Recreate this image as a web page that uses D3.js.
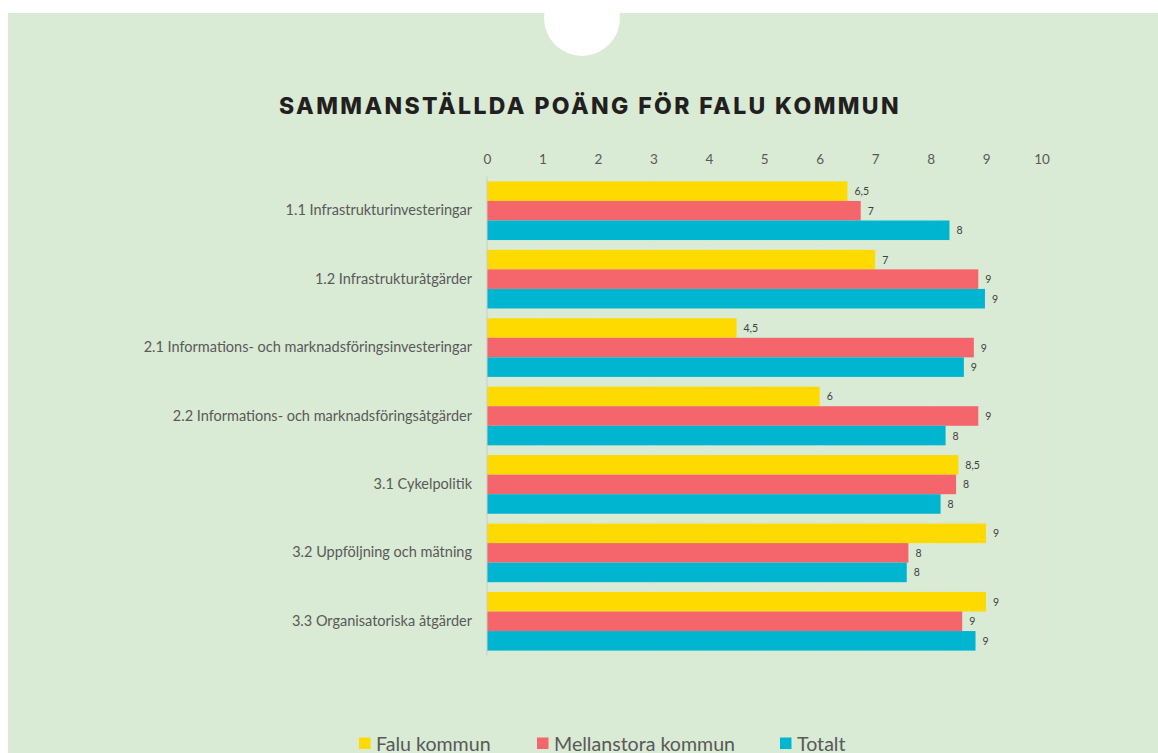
<!DOCTYPE html>
<html><head><meta charset="utf-8">
<script src="https://cdn.jsdelivr.net/npm/d3@7"></script>
<style>html,body{margin:0;padding:0;background:#fff;}svg{display:block;}</style>
</head><body>
<svg id="chart" width="1158" height="753"></svg>
<script>
const categories = ["1.1 Infrastrukturinvesteringar","1.2 Infrastrukturåtgärder","2.1 Informations- och marknadsföringsinvesteringar","2.2 Informations- och marknadsföringsåtgärder","3.1 Cykelpolitik","3.2 Uppföljning och mätning","3.3 Organisatoriska åtgärder"];
const seriesNames = ["Falu kommun","Mellanstora kommun","Totalt"];
const faluValues = [6.5, 7.0, 4.5, 6.0, 8.5, 9.0, 9.0];
const mellanValues = [6.74, 8.86, 8.78, 8.86, 8.46, 7.6, 8.57];
const totaltValues = [8.34, 8.98, 8.6, 8.27, 8.18, 7.57, 8.81];
const faluLabels = ["6,5","7","4,5","6","8,5","9","9"];
const mellanLabels = ["7","9","9","9","8","8","9"];
const totaltLabels = ["8","9","9","8","8","8","9"];
const tickValues = [0,1,2,3,4,5,6,7,8,9,10];
const colors = ["#FFDA00","#F4666B","#00B5CF"];
const title = "SAMMANSTÄLLDA POÄNG FÖR FALU KOMMUN";

const series = [
  {name: seriesNames[0], values: faluValues, labels: faluLabels, color: colors[0]},
  {name: seriesNames[1], values: mellanValues, labels: mellanLabels, color: colors[1]},
  {name: seriesNames[2], values: totaltValues, labels: totaltLabels, color: colors[2]}
];

const svg = d3.select("#chart");
const font = "Lato, 'Open Sans', sans-serif";

// background panel
svg.append("rect").attr("x",8).attr("y",13).attr("width",1150).attr("height",740).attr("fill","#D9EAD5");
svg.append("circle").attr("cx",582).attr("cy",18).attr("r",38).attr("fill","#fff");

// title
svg.append("text").attr("x",590).attr("y",114).attr("text-anchor","middle")
  .attr("font-family","Inter, sans-serif").attr("font-weight",800).attr("font-size",23)
  .attr("letter-spacing","2.4px").attr("fill","#231F20").text(title);

const x = d3.scaleLinear().domain([0,10]).range([487,1041.5]);
const y = d3.scaleBand().domain(categories).range([176.5,655.5]).paddingInner(0.143).paddingOuter(0.0715);
const ySub = d3.scaleBand().domain(seriesNames).range([0, y.bandwidth()]);

// gridlines
const gridTop = 176.5, gridBottom = 655.5;
svg.append("g").selectAll("line").data(tickValues.slice(1)).join("line")
  .attr("x1",d=>x(d)).attr("x2",d=>x(d)).attr("y1",gridTop).attr("y2",gridBottom)
  .attr("stroke","#E2E6DF").attr("stroke-width",1);

// top axis
const xAxis = d3.axisTop(x).tickValues(tickValues).tickSize(0).tickPadding(0).tickFormat(d3.format("d"));
const gx = svg.append("g").attr("transform","translate(0,164)").call(xAxis);
gx.select(".domain").remove();
gx.selectAll("text").attr("font-family",font).attr("font-size",13.5).attr("fill","#595959");

// bars
const groups = svg.append("g").selectAll("g").data(categories).join("g")
  .attr("transform",d=>`translate(0,${y(d)})`);
groups.each(function(cat, i){
  const g = d3.select(this);
  series.forEach(s=>{
    g.append("rect").attr("x",x(0)).attr("y",ySub(s.name))
      .attr("width",x(s.values[i])-x(0)).attr("height",ySub.bandwidth())
      .attr("fill",s.color);
    g.append("text").attr("x",x(s.values[i])+7).attr("y",ySub(s.name)+ySub.bandwidth()/2+4)
      .attr("font-family",font).attr("font-size",10.5).attr("fill","#404040").text(s.labels[i]);
  });
});

// left axis line
svg.append("line").attr("x1",x(0)).attr("x2",x(0)).attr("y1",gridTop).attr("y2",gridBottom)
  .attr("stroke","#C9CEC6").attr("stroke-width",1);

// category labels
const yAxis = d3.axisLeft(y).tickSize(0).tickPadding(15);
const gy = svg.append("g").attr("transform",`translate(${x(0)},0)`).call(yAxis);
gy.select(".domain").remove();
gy.selectAll("text").attr("font-family",font).attr("font-size",14.5).attr("fill","#595959");

// legend
const legendX = [359, 537, 780];
const lg = svg.append("g").selectAll("g").data(series).join("g")
  .attr("transform",(d,i)=>`translate(${legendX[i]},737.5)`);
lg.append("rect").attr("width",11.5).attr("height",11.5).attr("fill",d=>d.color);
lg.append("text").attr("x",17).attr("y",13).attr("font-family",font).attr("font-size",19.6)
  .attr("fill","#595959").text(d=>d.name);
</script>
</body></html>
